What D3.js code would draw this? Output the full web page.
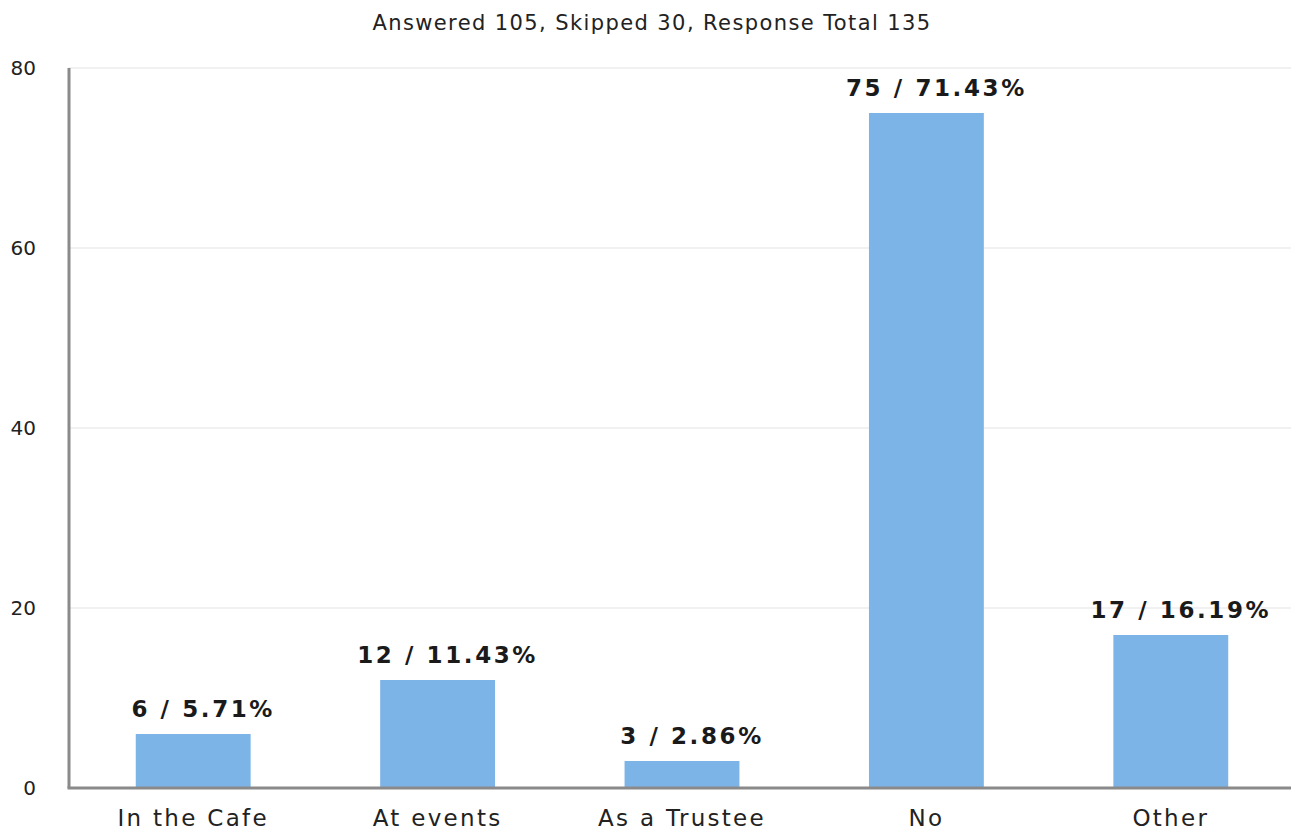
<!DOCTYPE html>
<html>
<head>
<meta charset="utf-8">
<script src="https://cdn.jsdelivr.net/npm/d3@7"></script>
<style>
  body { margin: 0; background: #fff; }
  text { font-family: "DejaVu Sans", Verdana, sans-serif; }
</style>
</head>
<body>
<div id="chart"></div>
<script>
// chart data
var categories = ["In the Cafe", "At events", "As a Trustee", "No", "Other"];
var counts = [6, 12, 3, 75, 17];
var percents = ["5.71%", "11.43%", "2.86%", "71.43%", "16.19%"];
var yTicks = [0, 20, 40, 60, 80];
var title = "Answered 105, Skipped 30, Response Total 135";

var svgWidth = 1291;
var svgHeight = 836;

var margin = { top: 68, right: 0, bottom: 48, left: 69 };
var width = svgWidth - margin.left - margin.right;
var height = svgHeight - margin.top - margin.bottom;

var svg = d3.select("#chart")
    .append("svg")
    .attr("width", svgWidth)
    .attr("height", svgHeight);

var chartGroup = svg.append("g")
    .attr("transform", `translate(${margin.left}, ${margin.top})`);

// scales
var xBandScale = d3.scaleBand()
    .domain(categories)
    .range([2, width + 2])
    .paddingInner(0.53)
    .paddingOuter(0.265);

var yLinearScale = d3.scaleLinear()
    .domain([0, 80])
    .range([height, 0]);

// gridlines
chartGroup.selectAll(".grid")
    .data(yTicks.filter(d => d > 0))
    .enter()
    .append("line")
    .attr("x1", 0)
    .attr("x2", width)
    .attr("y1", d => yLinearScale(d))
    .attr("y2", d => yLinearScale(d))
    .attr("stroke", "#ececec")
    .attr("stroke-width", 1.5);

// bars
chartGroup.selectAll("rect")
    .data(counts)
    .enter()
    .append("rect")
    .attr("x", (d, i) => xBandScale(categories[i]))
    .attr("y", d => yLinearScale(d))
    .attr("width", xBandScale.bandwidth())
    .attr("height", d => height - yLinearScale(d))
    .attr("fill", "#7cb4e8");

// bar labels (sit a little right of the bar centre, as in the original)
chartGroup.selectAll(".barLabel")
    .data(counts)
    .enter()
    .append("text")
    .attr("x", (d, i) => xBandScale(categories[i]) + xBandScale.bandwidth() / 2 + 10)
    .attr("y", d => yLinearScale(d) - 17)
    .attr("text-anchor", "middle")
    .attr("font-size", "23px")
    .attr("font-weight", "bold")
    .attr("letter-spacing", "2.6px")
    .attr("fill", "#1a1a1a")
    .text((d, i) => `${d} / ${percents[i]}`);

// y axis
var yAxis = d3.axisLeft(yLinearScale).tickValues(yTicks).tickSize(0).tickPadding(33);
var yAxisGroup = chartGroup.append("g").call(yAxis);
yAxisGroup.select(".domain").remove();
yAxisGroup.selectAll("text")
    .attr("font-size", "20px")
    .attr("font-family", "DejaVu Sans, Verdana, sans-serif")
    .attr("fill", "#222");

chartGroup.append("line")
    .attr("x1", 0).attr("x2", 0)
    .attr("y1", 0).attr("y2", height)
    .attr("stroke", "#8a8a8a")
    .attr("stroke-width", 3);

// x axis
var xAxis = d3.axisBottom(xBandScale).tickSize(0).tickPadding(22);
var xAxisGroup = chartGroup.append("g")
    .attr("transform", `translate(0, ${height})`)
    .call(xAxis);
xAxisGroup.select(".domain").remove();
xAxisGroup.selectAll("text")
    .attr("font-size", "23px")
    .attr("font-family", "DejaVu Sans, Verdana, sans-serif")
    .attr("letter-spacing", "2.3px")
    .attr("fill", "#222");

chartGroup.append("line")
    .attr("x1", -1.5).attr("x2", width)
    .attr("y1", height).attr("y2", height)
    .attr("stroke", "#8a8a8a")
    .attr("stroke-width", 3);

// title
svg.append("text")
    .attr("x", 652)
    .attr("y", 30)
    .attr("text-anchor", "middle")
    .attr("font-size", "21px")
    .attr("letter-spacing", "1.4px")
    .attr("fill", "#222")
    .text(title);
</script>
</body>
</html>
